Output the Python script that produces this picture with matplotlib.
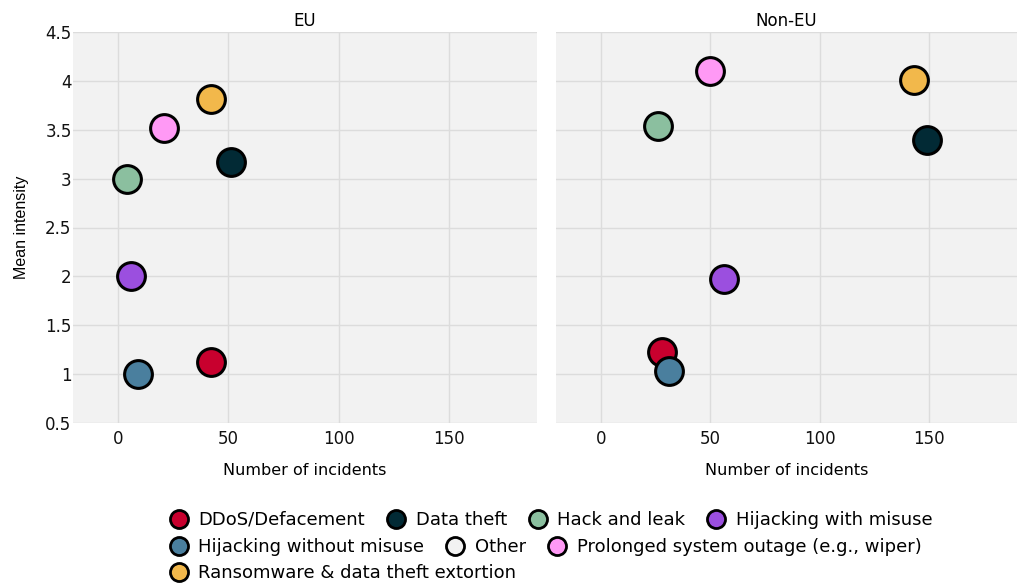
import matplotlib.pyplot as plt
from matplotlib.lines import Line2D

plt.rcParams['font.family'] = ['DejaVu Sans']

categories = ['DDoS/Defacement', 'Data theft', 'Hack and leak', 'Hijacking with misuse',
              'Hijacking without misuse', 'Other', 'Prolonged system outage (e.g., wiper)',
              'Ransomware & data theft extortion']
colors = ['#c8002e', '#022a35', '#8bbf9f', '#9b4fdf', '#4a7f9e', '#f2f2f2', '#ff99f5', '#f2b84b']

# incidents / mean intensity per region (None = no incidents)
eu_incidents = [42, 51, 4, 6, 9, None, 21, 42]
eu_intensity = [1.12, 3.17, 3.0, 2.0, 1.0, None, 3.52, 3.81]
noneu_incidents = [28, 149, 26, 56, 31, None, 50, 143]
noneu_intensity = [1.23, 3.40, 3.54, 1.97, 1.03, None, 4.10, 4.01]

panels = [('EU', eu_incidents, eu_intensity), ('Non-EU', noneu_incidents, noneu_intensity)]

W, H = 1017, 584
fig = plt.figure(figsize=(W / 100, H / 100), dpi=100)
boxes = [(73, 537), (556, 1017)]
top, bottom = 32, 423

for i, (title, xs, ys) in enumerate(panels):
    l, r = boxes[i]
    ax = fig.add_axes([l / W, 1 - bottom / H, (r - l) / W, (bottom - top) / H])
    ax.set_facecolor('#f2f2f2')
    for s in ax.spines.values():
        s.set_visible(False)
    ax.grid(True, color='#dcdcdc', linewidth=1)
    ax.set_axisbelow(True)
    for x, y, c in zip(xs, ys, colors):
        if x is None:
            continue
        ax.scatter(x, y, s=400, color=c, edgecolor='black', linewidth=2.2, zorder=3)
    ax.set_xlim(-20.5, 190)
    ax.set_ylim(0.5, 4.5)
    ax.set_xticks([0, 50, 100, 150])
    ax.set_yticks([0.5, 1, 1.5, 2, 2.5, 3, 3.5, 4, 4.5])
    ax.set_yticklabels(['0.5', '1', '1.5', '2', '2.5', '3', '3.5', '4', '4.5'])
    ax.tick_params(axis='x', length=0, labelsize=12, pad=5, colors='#111111')
    ax.tick_params(axis='y', length=0, labelsize=12, pad=1, colors='#111111')
    if i == 1:
        ax.tick_params(labelleft=False)
    else:
        ax.set_ylabel('Mean intensity', fontsize=11.5, family='Liberation Sans', labelpad=12)
    ax.set_title(title, fontsize=12, pad=4)
    ax.set_xlabel('Number of incidents', fontsize=11.5, labelpad=11)

# flowing legend, three rows
rows = [[0, 1, 2, 3], [4, 5, 6], [7]]
row_y = [520, 547, 573]
for idx, y in zip(rows, row_y):
    handles = [Line2D([], [], marker='o', linestyle='', markersize=13, markerfacecolor=colors[k],
                      markeredgecolor='black', markeredgewidth=2) for k in idx]
    fig.legend(handles, [categories[k] for k in idx], loc='center left',
               bbox_to_anchor=(165 / W, 1 - y / H), ncol=len(idx), frameon=False,
               fontsize=13, handletextpad=0.35, columnspacing=0.95, handlelength=1.5,
               borderpad=0, borderaxespad=0)

fig.savefig('out.png', dpi=100)
